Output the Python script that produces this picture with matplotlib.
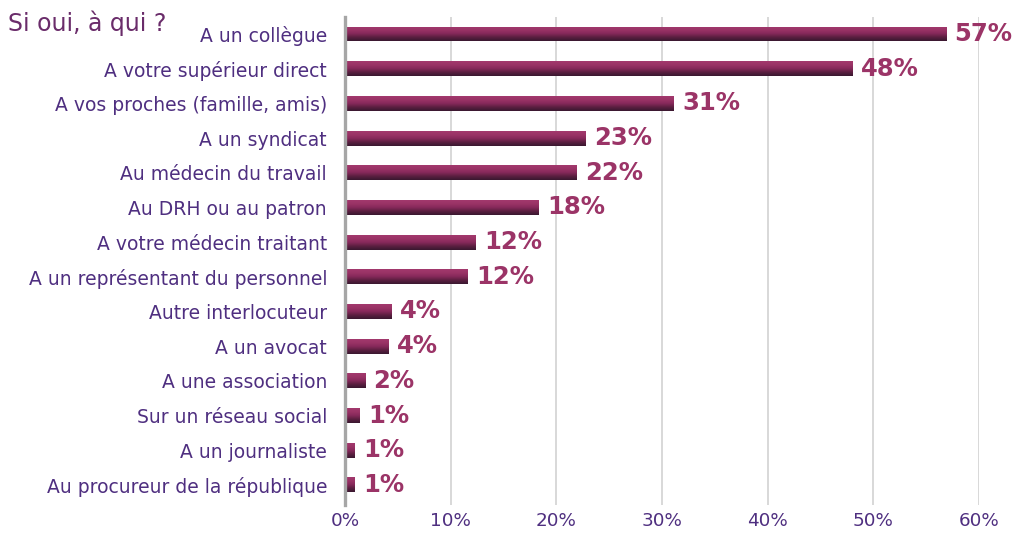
import numpy as np
import matplotlib
matplotlib.use('Agg')
import matplotlib.pyplot as plt
from matplotlib.colors import LinearSegmentedColormap

# Data
categories = [
    'A un collègue',
    'A votre supérieur direct',
    'A vos proches (famille, amis)',
    'A un syndicat',
    'Au médecin du travail',
    'Au DRH ou au patron',
    'A votre médecin traitant',
    'A un représentant du personnel',
    'Autre interlocuteur',
    'A un avocat',
    'A une association',
    'Sur un réseau social',
    'A un journaliste',
    'Au procureur de la république',
]
values = [56.9, 48.0, 31.1, 22.8, 21.9, 18.3, 12.4, 11.6, 4.4, 4.1, 1.9, 1.4, 0.9, 0.9]
value_labels = ['57%', '48%', '31%', '23%', '22%', '18%', '12%', '12%',
                '4%', '4%', '2%', '1%', '1%', '1%']
xticks = [0, 10, 20, 30, 40, 50, 60]
title = 'Si oui, à qui ?'

label_color = '#4f2f80'
value_color = '#9b3467'
bar_cmap = LinearSegmentedColormap.from_list(
    'bar', ['#a2396d', '#9a3366', '#86295a', '#5a1f40', '#3a1830'])

fig = plt.figure(figsize=(10.15, 5.33), dpi=100)
ax = fig.add_axes([0.340, 0.0525, 0.9645 - 0.340, 0.9156])

y = np.arange(len(categories))
bar_h = 0.43
bars = ax.barh(y, values, height=bar_h, color='#8e2e5e', zorder=2)

# gradient fill, dark at the bottom of each bar
grad = np.linspace(0, 1, 64).reshape(-1, 1)
for b in bars:
    x0, y0 = b.get_x(), b.get_y()
    im = ax.imshow(grad, cmap=bar_cmap, aspect='auto', zorder=3,
                   extent=[x0, x0 + b.get_width(), y0 + b.get_height(), y0],
                   interpolation='bilinear')
    im.set_clip_path(b)

for yi, v, lab in zip(y, values, value_labels):
    ax.annotate(lab, (v, yi), xytext=(6, 0), textcoords='offset points',
                ha='left', va='center', fontsize=17.5, fontweight='bold',
                color=value_color, family='DejaVu Sans', clip_on=False)

ax.set_xlim(0, 60)
ax.set_ylim(len(categories) - 1 + 0.58, -0.49)

ax.set_yticks(y)
ax.set_yticklabels(categories, fontsize=13.5, color=label_color)
ax.set_xticks(xticks)
ax.set_xticklabels([f'{t}%' for t in xticks], fontsize=13.2, color=label_color)
ax.tick_params(axis='y', length=0, pad=13)
ax.tick_params(axis='x', length=0, pad=5)

ax.grid(axis='x', color='#d6d6d6', linewidth=1.3, zorder=0)
ax.set_axisbelow(True)
for side in ['top', 'right', 'bottom']:
    ax.spines[side].set_visible(False)
ax.spines['left'].set_color('#a6a6a6')
ax.spines['left'].set_linewidth(2.4)
ax.spines['left'].set_zorder(5)

fig.text(0.008, 0.957, title, fontsize=17, color='#6a2c6a',
         family='DejaVu Sans', ha='left', va='center')

fig.savefig('out.png', dpi=100)
